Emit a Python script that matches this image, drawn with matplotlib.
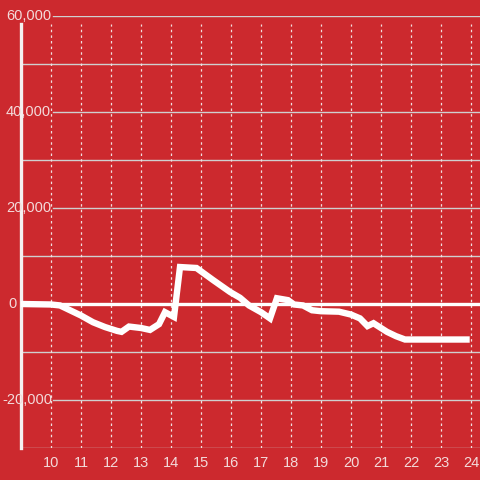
import matplotlib
matplotlib.use("Agg")
import matplotlib.pyplot as plt

# ---------------------------------------------------------------------------
# Datos
# ---------------------------------------------------------------------------
horas = [9.0, 10.0, 10.3, 10.6, 11.0, 11.4, 11.8, 12.2, 12.35, 12.6, 13.0,
         13.3, 13.6, 13.8, 14.1, 14.3, 14.85, 15.4, 15.97, 16.3, 16.6, 17.0,
         17.3, 17.53, 17.9, 18.1, 18.4, 18.7, 19.0, 19.6, 20.0, 20.3, 20.55,
         20.75, 21.2, 21.5, 21.8, 23.85]
valores = [0, -100, -300, -1200, -2400, -3800, -4800, -5600, -5800, -4700,
           -5000, -5400, -4200, -1700, -2700, 7700, 7500, 5000, 2500, 1300,
           -300, -1700, -3000, 1200, 800, -100, -300, -1300, -1500, -1600,
           -2200, -3000, -4600, -4000, -5800, -6700, -7400, -7400]

x_ticks = list(range(10, 25))
y_grid = list(range(-30000, 60001, 10000))
y_labels = [60000, 40000, 20000, 0, -20000]

fondo = "#cc292e"
texto = "#f3dada"
rejilla = "#cfcfcf"

W, H = 480, 480
fig = plt.figure(figsize=(4.8, 4.8), dpi=100, facecolor=fondo)
ax = fig.add_axes([21 / W, 32 / H, 459 / W, 432 / H])
ax.set_facecolor(fondo)
ax.set_xlim(9, 9 + 459 / 30)
ax.set_ylim(-30000, 60000)

for s in ["top", "right", "bottom"]:
    ax.spines[s].set_visible(False)
ax.spines["left"].set_color("#f5f0f0")
ax.spines["left"].set_linewidth(2.4)
ax.spines["left"].set_bounds(-30000, 58300)
ax.spines["left"].set_zorder(4)

# rejilla horizontal
x0_lab = (53 - 21) / 459
for v in y_grid:
    if v == 0:
        continue
    xmin = x0_lab if v in y_labels else 0
    ax.axhline(v, xmin=xmin, xmax=1, color=rejilla, lw=1.0, zorder=1)
ax.axhline(0, xmin=x0_lab, xmax=1, color="white", lw=2.4, zorder=2)

# rejilla vertical punteada
ax.vlines(x_ticks, -30000, 58300, colors="#f0e0e0", linestyles=(0, (2, 2.5)),
          lw=0.9, zorder=1)

# serie
ax.plot(horas, valores, color="white", lw=4.6, solid_joinstyle="miter",
        solid_capstyle="projecting", zorder=5)

# etiquetas
ax.set_yticks([])
ax.set_xticks(x_ticks)
ax.set_xticklabels([str(t) for t in x_ticks], color=texto, fontsize=10.5,
                   family="Liberation Sans")
ax.tick_params(axis="x", length=0, pad=6)

for v in y_labels:
    xpix = 2 if v < 0 else (8 if v == 0 else 6)
    ax.text(xpix / W, ax.transData.transform((0, v))[1] / H,
            f"{v:,}", transform=fig.transFigure, ha="left", va="center",
            color=texto, fontsize=10.5, family="Liberation Sans", zorder=6)

fig.savefig("out.png", dpi=100, facecolor=fondo)
